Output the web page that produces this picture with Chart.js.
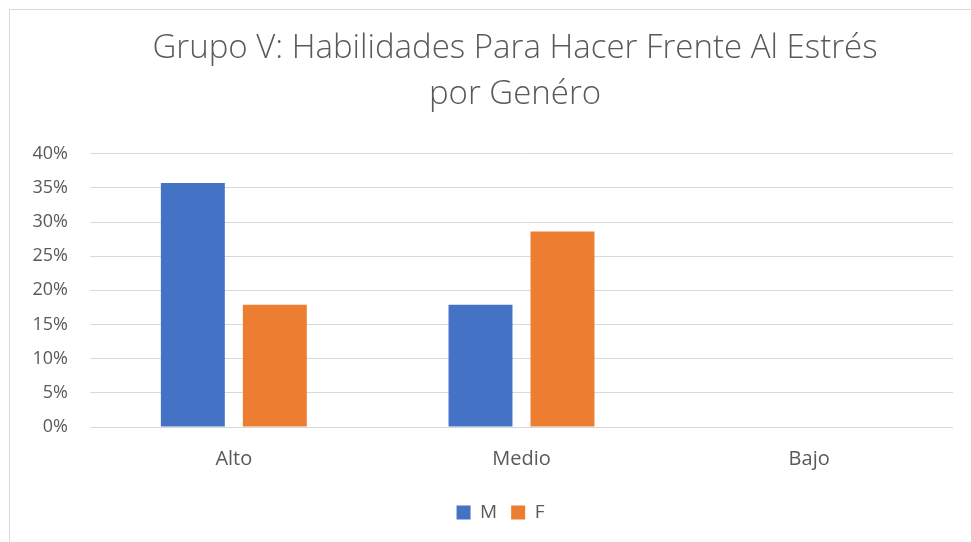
<!DOCTYPE html>
<html>
<head>
<meta charset="utf-8">
<script src="https://cdn.jsdelivr.net/npm/chart.js@4/dist/chart.umd.min.js"></script>
<style>
  html, body { margin: 0; padding: 0; background: #fff; overflow: hidden; }
  #frame { position: absolute; left: 9px; top: 9px; width: 1000px; height: 600px; border: 1px solid #d9d9d9; }
  #wrap { position: absolute; left: 0; top: 0; width: 971px; height: 542px; }
</style>
</head>
<body>
<div id="frame"></div>
<div id="wrap"><canvas id="chart" width="971" height="542"></canvas></div>
<script>
// Data
const categories = ['Alto', 'Medio', 'Bajo'];
const seriesM = [0.357, 0.179, 0];
const seriesF = [0.179, 0.286, 0];
const titleLines = ['Grupo V: Habilidades Para Hacer Frente Al Estrés', 'por Genéro'];

const FONT = "'Open Sans', 'Noto Sans', sans-serif";
const TEXT = '#595959';

// The original centres title and legend over the whole frame, not the plot,
// so nudge those boxes to the right after layout.
const shiftBoxes = {
    id: 'shiftBoxes',
    afterLayout(chart) {
        if (chart.titleBlock) chart.titleBlock.left += 77;
        if (chart.legend) chart.legend.left += 48;
    }
};

const ctx = document.getElementById('chart').getContext('2d');
const chart = new Chart(ctx, {
    type: 'bar',
    data: {
        labels: categories,
        datasets: [
            { label: 'M', data: seriesM, backgroundColor: '#4472C4' },
            { label: 'F', data: seriesF, backgroundColor: '#ED7D31' }
        ]
    },
    plugins: [shiftBoxes],
    options: {
        responsive: false,
        animation: false,
        layout: { padding: { left: 0, right: 18, top: 0, bottom: 10 } },
        datasets: {
            bar: { categoryPercentage: 0.57, barPercentage: 0.78 }
        },
        scales: {
            x: {
                grid: { display: false },
                border: { display: false },
                ticks: { color: TEXT, font: { family: FONT, size: 20 }, padding: 12 },
                afterFit: (s) => { s.height = 62; }
            },
            y: {
                min: 0,
                max: 0.4,
                ticks: {
                    stepSize: 0.05,
                    color: TEXT,
                    font: { family: FONT, size: 18 },
                    padding: 22,
                    callback: (v) => Math.round(v * 100) + '%'
                },
                grid: { color: '#d9d9d9', lineWidth: 1, drawTicks: false },
                border: { display: false },
                afterFit: (s) => { s.width = 90; }
            }
        },
        plugins: {
            title: {
                display: true,
                text: titleLines,
                color: TEXT,
                font: { family: FONT, size: 33, weight: '300', lineHeight: 1.39 },
                padding: { top: 26, bottom: 36 }
            },
            legend: {
                position: 'bottom',
                labels: {
                    color: TEXT,
                    font: { family: FONT, size: 19 },
                    boxWidth: 14,
                    boxHeight: 14,
                    padding: 14
                }
            },
            tooltip: { enabled: false }
        }
    }
});
</script>
</body>
</html>
